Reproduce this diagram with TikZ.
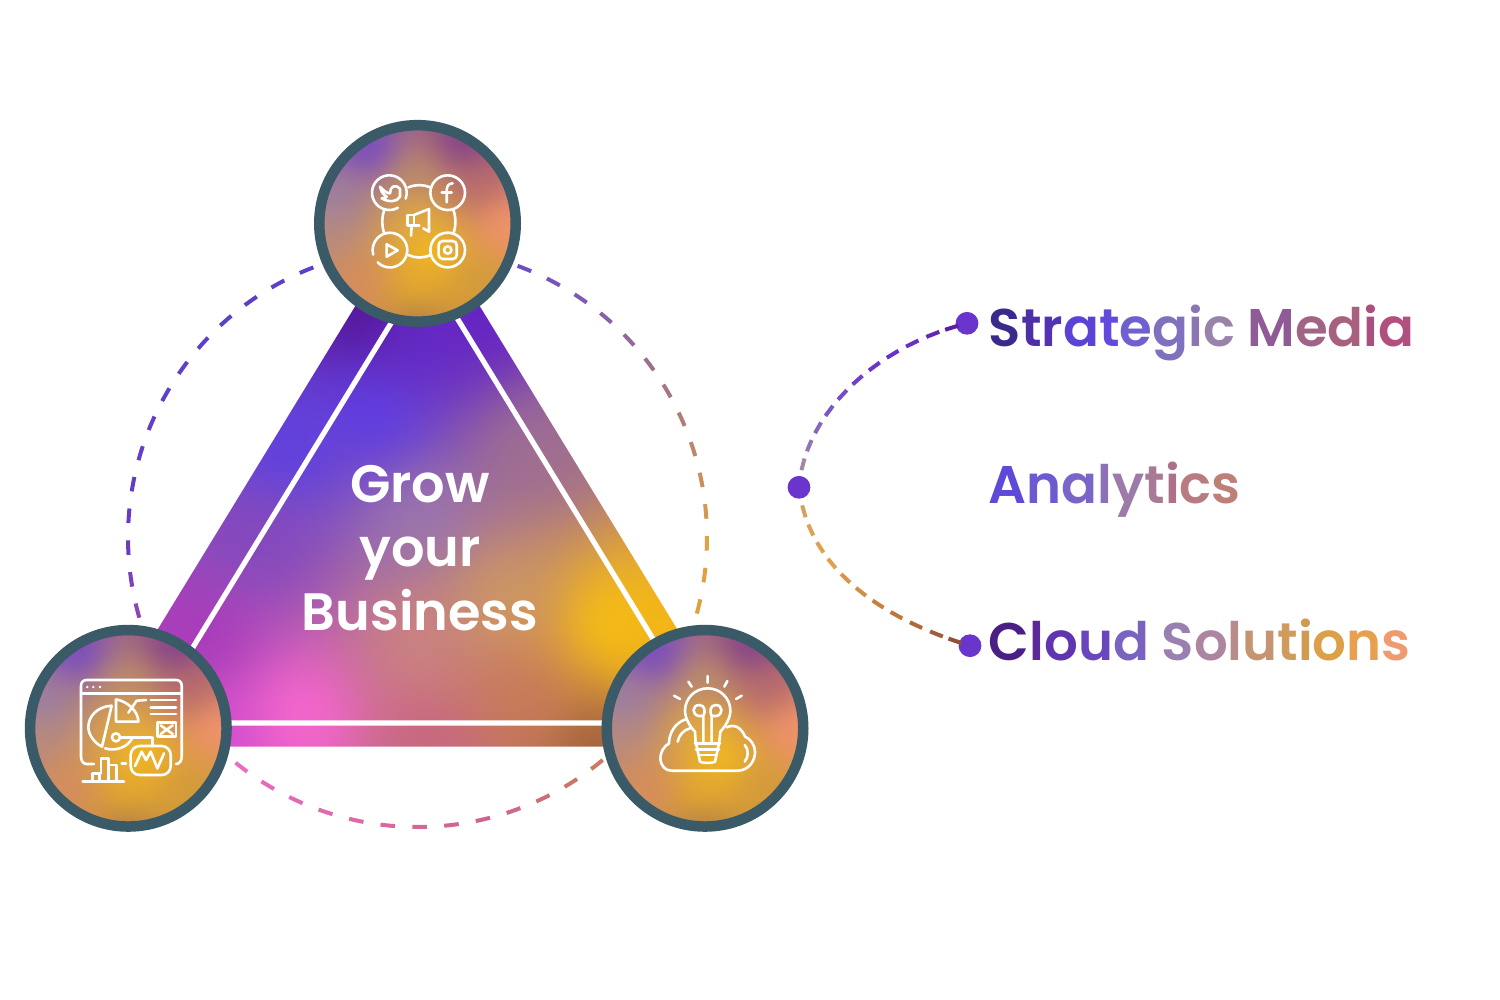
\documentclass[tikz,border=0pt]{standalone}
\usepackage{fontspec}
\usepackage{xcolor}
\setmainfont{Poppins}
\newfontfamily\popsemi{Poppins SemiBold}
\usetikzlibrary{positioning}

\definecolor{hubring}{HTML}{395A66}
\definecolor{dotfill}{HTML}{6A35CC}
\definecolor{ringa}{HTML}{6C3CBC}
\definecolor{ringb}{HTML}{B050B0}
\definecolor{ringc}{HTML}{E86CC0}
\definecolor{ringd}{HTML}{DD68A8}
\definecolor{ringe}{HTML}{CC6490}
\definecolor{ringf}{HTML}{CA7C62}
\definecolor{ringg}{HTML}{DCA040}
\definecolor{ringh}{HTML}{E0A244}
\definecolor{ringi}{HTML}{B07E78}
\definecolor{ringj}{HTML}{8860A8}
\definecolor{ringk}{HTML}{6848C8}
\definecolor{ringl}{HTML}{6040C8}
\definecolor{ringm}{HTML}{5C40C4}
\definecolor{ringn}{HTML}{6040C8}
\definecolor{ringo}{HTML}{683CC0}
\definecolor{upa}{HTML}{A08AA0}
\definecolor{upb}{HTML}{7A58C8}
\definecolor{upc}{HTML}{6A30C8}
\definecolor{upd}{HTML}{5A20A0}
\definecolor{lowa}{HTML}{D8A060}
\definecolor{lowb}{HTML}{E0A050}
\definecolor{lowc}{HTML}{C88040}
\definecolor{lowd}{HTML}{905038}

% colour spots for the gradients, x y r g b
\def\shpt#1#2#3#4#5{ 5 index #1 sub dup mul 5 index #2 sub dup mul add \sheps\space add dup sqrt mul 1000000 exch div 5 1 roll 4 index #5 mul add 4 1 roll 4 index #4 mul add 4 1 roll 4 index #3 mul add 4 1 roll 4 index add 4 1 roll 5 -1 roll pop }
\def\shend{ 3 index div 255 div 3 1 roll 3 index div 255 div 3 1 roll 3 index div 255 div 3 1 roll 4 -1 roll pop 5 -2 roll pop pop }

\def\sheps{2200}
\pgfdeclarefunctionalshading{trifill}{\pgfpoint{0bp}{0bp}}{\pgfpoint{100bp}{100bp}}{}{
  exch 25 sub 16 mul 30 add exch 75 exch sub 16 mul 200 add 0 0 0 0
  \shpt{360}{310}{80}{16}{146}
  \shpt{480}{315}{100}{32}{196}
  \shpt{420}{340}{100}{40}{204}
  \shpt{375}{415}{90}{60}{236}
  \shpt{290}{450}{90}{64}{228}
  \shpt{260}{540}{130}{72}{188}
  \shpt{200}{640}{165}{56}{184}
  \shpt{215}{735}{216}{76}{212}
  \shpt{300}{715}{255}{104}{212}
  \shpt{430}{740}{200}{100}{128}
  \shpt{520}{700}{200}{120}{88}
  \shpt{600}{745}{156}{92}{60}
  \shpt{420}{640}{205}{133}{128}
  \shpt{420}{520}{154}{120}{176}
  \shpt{530}{450}{160}{112}{144}
  \shpt{500}{600}{208}{156}{96}
  \shpt{610}{625}{255}{200}{8}
  \shpt{670}{640}{248}{184}{16}
  \shend
}

\def\sheps{900}
\pgfdeclarefunctionalshading{hubfill}{\pgfpoint{0bp}{0bp}}{\pgfpoint{100bp}{100bp}}{}{
  exch 50 sub 3.93 mul exch 50 exch sub 3.93 mul 0 0 0 0
  \shpt{-50}{-75}{110}{64}{205}
  \shpt{45}{-80}{118}{52}{144}
  \shpt{-85}{-25}{150}{125}{170}
  \shpt{-92}{5}{185}{140}{125}
  \shpt{60}{-40}{180}{100}{110}
  \shpt{88}{0}{252}{150}{112}
  \shpt{0}{-45}{190}{145}{105}
  \shpt{0}{-5}{232}{175}{62}
  \shpt{13}{25}{255}{200}{8}
  \shpt{-60}{60}{216}{138}{96}
  \shpt{60}{60}{208}{154}{56}
  \shpt{0}{65}{240}{178}{35}
  \shpt{0}{96}{168}{116}{76}
  \shend
}

\tikzset{
  hub/.style={circle,draw=hubring,line width=5.25pt,minimum size=98.25pt,inner sep=0pt,shade,shading=hubfill},
  linkdot/.style={circle,fill=dotfill,minimum size=11.4pt,inner sep=0pt},
  ringdash/.style={line width=2pt},
  curvedash/.style={line width=2pt},
  icon/.style={draw=white,line width=1.3pt,line cap=round,line join=round},
  label/.style={anchor=base west,font=\popsemi\fontsize{26.5}{32}\selectfont,inner sep=0pt}
}
\newcommand{\gl}[2]{\textcolor[HTML]{#1}{#2}}

\begin{document}
\begin{tikzpicture}[x=0.5pt,y=-0.5pt]
  \useasboundingbox (0,0) rectangle (1500,1000);

  \coordinate (ringmid) at (417.5,537.5);
  %dashed ring
  \foreach \ca/\cb [count=\n from 0] in {ringa/ringb,ringb/ringc,ringc/ringd,ringd/ringe,ringe/ringf,ringf/ringg,ringg/ringh,ringh/ringi,ringi/ringj,ringj/ringk,ringk/ringl,ringl/ringm,ringm/ringn,ringn/ringo,ringo/ringa}
    \foreach \j in {0,...,3} {
      \pgfmathtruncatemacro\k{4*\n+\j}
      \pgfmathsetmacro\ang{178-6.316*\k}
      \pgfmathtruncatemacro\mixp{100-25*\j}
      \ifnum\k<57
        \draw[ringdash,color=\ca!\mixp!\cb] ([shift={(\ang-1.45:289.5)}]ringmid) arc[start angle=\ang-1.45,delta angle=2.9,radius=289.5];
      \fi
    }

  %triangle
  \begin{scope}
    \clip (417.5,204.3) -- (86,746.7) -- (749,746.7) -- cycle;
    \shade[shading=trifill] (30,200) rectangle (830,1000);
  \end{scope}
  \draw[white,line width=2.6pt,line join=miter] (425.6,266.6) -- (146.7,723) -- (704.4,723) -- cycle;

  \node[hub] (hubmedia) at (417.5,223.4) {};
  \node[hub] (hubchart) at (128.3,728.3) {};
  \node[hub] (hubcloud) at (705,728.3) {};

  \node[font=\popsemi\fontsize{26.3}{32}\selectfont,text=white,align=center,inner sep=0pt] (title) at (420,548) {Grow\\your\\Business};

  \node[linkdot] (dotmedia) at (967,323.3) {};
  \node[linkdot] (dotanalytics) at (799,487.3) {};
  \node[linkdot] (dotcloud) at (970,645.7) {};

  %curve up
  \foreach \u/\c in {0.075/upa,0.16/upa!60!upb,0.245/upa!30!upb,0.33/upb,0.415/upb!70!upc,0.50/upb!40!upc,0.585/upb!15!upc,0.67/upc,0.755/upc,0.84/upc!50!upd,0.915/upd}
    \path (dotanalytics.center) .. controls (805,410) and (880,345) .. (dotmedia.center)
      coordinate[pos=\u] (dashs) coordinate[pos=\u+0.052] (dashe)
      (dashs) edge[curvedash,color=\c] (dashe);
  %curve down
  \foreach \u/\c in {0.075/lowa,0.16/lowa!50!lowb,0.245/lowb,0.33/lowb,0.415/lowb!70!lowc,0.50/lowb!40!lowc,0.585/lowc,0.67/lowc!80!lowd,0.755/lowc!55!lowd,0.84/lowc!30!lowd,0.915/lowd}
    \path (dotanalytics.center) .. controls (808,570) and (885,620) .. (dotcloud.center)
      coordinate[pos=\u] (dashs) coordinate[pos=\u+0.052] (dashe)
      (dashs) edge[curvedash,color=\c] (dashe);

  \node[label] (strategic) at (988.5,346.7) {\gl{3B2A8A}{S}\gl{4D30A6}{t}\gl{5333B4}{r}\gl{5D42D6}{a}\gl{6449DF}{t}\gl{6E60CF}{e}\gl{8070BE}{g}\gl{8C76B2}{i}\gl{9A83AA}{c} \gl{8F5A95}{M}\gl{A06485}{e}\gl{A8607F}{d}\gl{A85080}{i}\gl{B0507F}{a}};
  \node[label] (analytics) at (988.5,503) {\gl{5D4AD8}{A}\gl{6C5AD0}{n}\gl{7A66C8}{a}\gl{8C70B8}{l}\gl{9D7AA8}{y}\gl{A87A96}{t}\gl{AD6F8A}{i}\gl{B87C80}{c}\gl{BC8078}{s}};
  \node[label] (cloud) at (988.5,660) {\gl{4A1F85}{C}\gl{5A2A9A}{l}\gl{6135B0}{o}\gl{6A45C0}{u}\gl{7A62C0}{d} \gl{9A80B0}{S}\gl{AD85A0}{o}\gl{B88C8A}{l}\gl{C49570}{u}\gl{CF9C5E}{t}\gl{D09A50}{i}\gl{DCA048}{o}\gl{E8A050}{n}\gl{F09A70}{s}};

  %media icon
  \begin{scope}[shift={(310,115)},x=0.1667pt,y=-0.1667pt,icon]
    \draw (264,278) arc[start angle=60,end angle=380,radius=52];
    \draw (413,233) circle (52);
    \draw (203,442) arc[start angle=135,end angle=-195,radius=52];
    \draw (413,405) circle (52);
    \draw (295,217) .. controls (315,208) and (340,208) .. (361,217);
    \draw (295,420) .. controls (315,430) and (340,430) .. (361,420);
    \draw (223,285) .. controls (215,305) and (215,335) .. (223,355);
    \draw (430,285) .. controls (438,305) and (438,335) .. (430,355);
    \draw (210,215) .. controls (225,232) and (235,235) .. (240,235) .. controls (240,215) and (255,205) .. (270,222) -- (270,245) .. controls (262,262) and (235,262) .. (215,250) .. controls (225,250) and (230,245) .. (230,245) .. controls (215,235) and (212,225) .. (210,215);
    \draw (410,262) -- (410,225) .. controls (410,212) and (418,205) .. (428,205);
    \draw (395,232) -- (425,232);
    \draw (230,388) -- (230,425) -- (263,406) -- cycle;
    \draw[rounded corners=2pt] (386,378) rectangle (440,432);
    \draw (413,405) circle (11);
    \draw (292,300) rectangle (312,332);
    \draw (312,300) -- (357,282) -- (357,350) -- (340,340);
    \draw (312,332) -- (328,332);
    \draw (305,332) -- (303,362);
  \end{scope}

  %chart icon
  \begin{scope}[shift={(20,620)},x=0.1667pt,y=-0.1667pt,icon]
    \draw (222,432) -- (200,432) .. controls (190,432) and (183,422) .. (183,410) -- (183,197) .. controls (183,186) and (190,180) .. (200,180) -- (468,180) .. controls (478,180) and (485,186) .. (485,197) -- (485,410) .. controls (485,422) and (478,432) .. (468,432);
    \draw (183,220) -- (485,220);
    \foreach \dx in {202,220,240}
      \fill[white] (\dx,201) circle (4);
    \draw (275,257) .. controls (230,260) and (205,290) .. (205,322) .. controls (205,345) and (225,370) .. (246,380) -- (275,257);
    \draw (255,385) .. controls (290,395) and (325,380) .. (338,352);
    \draw (288,352) circle (12);
    \draw (300,352) -- (398,352) -- (398,378);
    \draw (288,238) -- (288,305) -- (355,305) .. controls (355,275) and (325,245) .. (288,238);
    \draw (325,278) -- (350,242) -- (378,240);
    \foreach \ly in {240,262,282}
      \draw (392,\ly) -- (468,\ly);
    \draw (412,308) rectangle (468,350);
    \draw (422,316) -- (458,342) (458,316) -- (422,342);
    \draw[rounded corners=4.5pt] (332,378) rectangle (452,465);
    \draw (345,438) -- (365,395) -- (378,420) -- (392,395) -- (412,445) -- (432,400);
    \draw (188,485) -- (312,485);
    \draw (218,485) -- (218,460) -- (238,460) -- (238,485);
    \draw (243,460) -- (243,415) -- (265,415) -- (265,485);
    \draw (265,435) -- (290,435) -- (290,485);
    \draw (305,430) -- (318,430);
  \end{scope}

  %cloud icon
  \begin{scope}[shift={(595,620)},x=0.1667pt,y=-0.1667pt,icon]
    \draw (302,372) -- (300,335) .. controls (285,320) and (270,295) .. (270,272) .. controls (270,235) and (300,205) .. (338,205) .. controls (376,205) and (406,235) .. (406,272) .. controls (406,295) and (390,320) .. (376,335) -- (372,372);
    \draw (300,370) -- (375,370) (303,388) -- (372,388) (312,405) -- (362,405);
    \draw (303,370) -- (315,425) .. controls (320,430) and (355,430) .. (360,425) -- (372,370);
    \draw (325,370) -- (325,288) -- (312,288) .. controls (290,285) and (290,255) .. (313,255) .. controls (330,255) and (332,275) .. (325,288);
    \draw (350,370) -- (350,288) -- (363,288) .. controls (385,285) and (385,255) .. (362,255) .. controls (345,255) and (343,275) .. (350,288);
    \draw (338,168) -- (338,188) (280,185) -- (290,200) (397,183) -- (388,200) (237,227) -- (255,237) (440,227) -- (423,237);
    \draw (272,298) .. controls (240,308) and (222,340) .. (222,370) .. controls (205,380) and (196,398) .. (196,415) .. controls (198,440) and (212,452) .. (230,452) -- (430,452) .. controls (460,450) and (480,425) .. (480,395) .. controls (480,375) and (465,355) .. (450,350) .. controls (440,325) and (420,310) .. (395,322);
    \draw (248,365) .. controls (252,345) and (265,330) .. (285,325);
    \draw (449,375) .. controls (460,385) and (462,410) .. (449,425);
  \end{scope}
\end{tikzpicture}
\end{document}
